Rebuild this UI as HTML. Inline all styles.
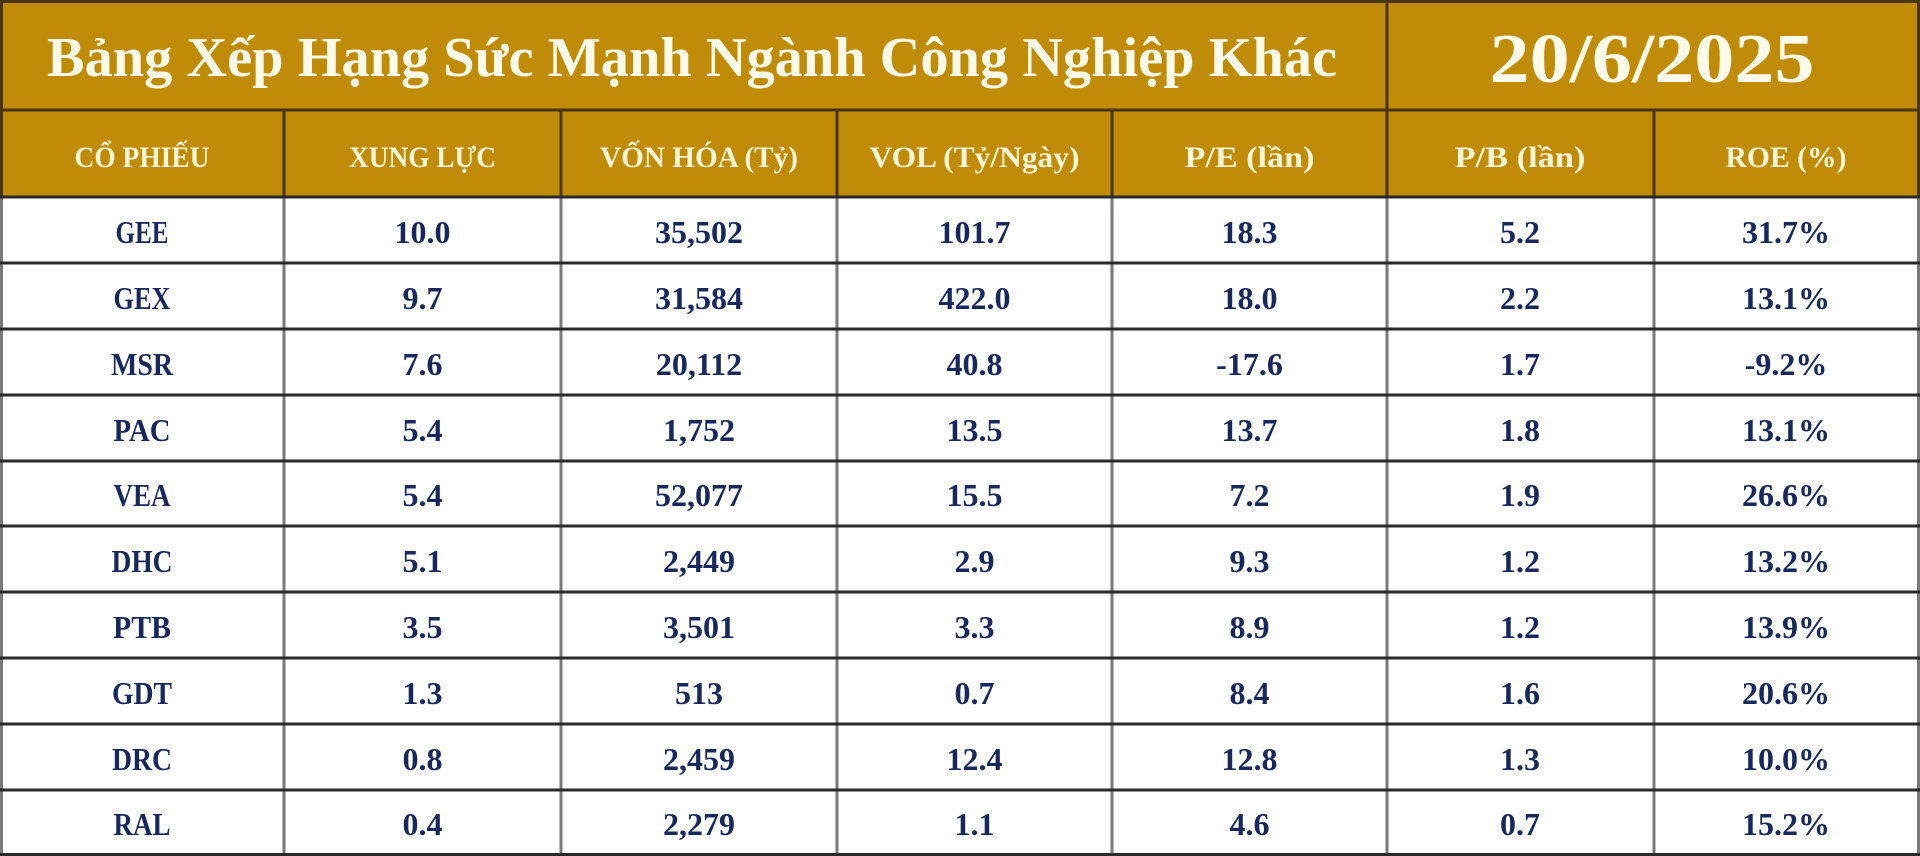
<!DOCTYPE html>
<html><head><meta charset="utf-8">
<style>
html,body{margin:0;padding:0;background:#fff;}
svg{display:block;}
.t{font-family:"Liberation Serif","DejaVu Serif",serif;font-weight:bold;}
</style></head>
<body>
<svg width="1920" height="856" viewBox="0 0 1920 856" xmlns="http://www.w3.org/2000/svg">
<rect x="0" y="0" width="1920" height="856" fill="#ffffff"/>
<rect x="0" y="0" width="1920" height="197" fill="#C08C07"/>
<g stroke="#4a3512" stroke-width="3">
<line x1="0" y1="1.5" x2="1920" y2="1.5"/>
<line x1="0" y1="110" x2="1920" y2="110"/>
<line x1="1.5" y1="0" x2="1.5" y2="197"/>
<line x1="1918.5" y1="0" x2="1918.5" y2="197"/>
<line x1="1387" y1="0" x2="1387" y2="110"/>
<line x1="284" y1="110" x2="284" y2="197"/>
<line x1="561" y1="110" x2="561" y2="197"/>
<line x1="837" y1="110" x2="837" y2="197"/>
<line x1="1112" y1="110" x2="1112" y2="197"/>
<line x1="1387" y1="110" x2="1387" y2="197"/>
<line x1="1654" y1="110" x2="1654" y2="197"/>
</g>
<g stroke="#7a7a7a" stroke-width="3">
<line x1="1.5" y1="197" x2="1.5" y2="856"/>
<line x1="284" y1="197" x2="284" y2="856"/>
<line x1="561" y1="197" x2="561" y2="856"/>
<line x1="837" y1="197" x2="837" y2="856"/>
<line x1="1112" y1="197" x2="1112" y2="856"/>
<line x1="1387" y1="197" x2="1387" y2="856"/>
<line x1="1654" y1="197" x2="1654" y2="856"/>
<line x1="1918.5" y1="197" x2="1918.5" y2="856"/>
</g>
<g stroke="#2a2a2a" stroke-width="3">
<line x1="0" y1="197" x2="1920" y2="197"/>
<line x1="0" y1="263" x2="1920" y2="263"/>
<line x1="0" y1="329" x2="1920" y2="329"/>
<line x1="0" y1="395" x2="1920" y2="395"/>
<line x1="0" y1="461" x2="1920" y2="461"/>
<line x1="0" y1="526" x2="1920" y2="526"/>
<line x1="0" y1="592" x2="1920" y2="592"/>
<line x1="0" y1="658" x2="1920" y2="658"/>
<line x1="0" y1="724" x2="1920" y2="724"/>
<line x1="0" y1="790" x2="1920" y2="790"/>
<line x1="0" y1="854.5" x2="1920" y2="854.5"/>
</g>

<g class="t" fill="#FFFBEA" text-anchor="middle">
<text x="692" y="76" font-size="56" textLength="1290" lengthAdjust="spacingAndGlyphs">Bảng Xếp Hạng Sức Mạnh Ngành Công Nghiệp Khác</text>
<text x="1652" y="82" font-size="70" textLength="325" lengthAdjust="spacingAndGlyphs">20/6/2025</text>
</g>

<g class="t" fill="#FFF6DA" text-anchor="middle" font-size="30">
<text x="142" y="167" textLength="135" lengthAdjust="spacingAndGlyphs">CỔ PHIẾU</text>
<text x="422.5" y="167" textLength="147" lengthAdjust="spacingAndGlyphs">XUNG LỰC</text>
<text x="699" y="167" textLength="198" lengthAdjust="spacingAndGlyphs">VỐN HÓA (Tỷ)</text>
<text x="974.5" y="167" textLength="210" lengthAdjust="spacingAndGlyphs">VOL (Tỷ/Ngày)</text>
<text x="1249.5" y="167" textLength="130" lengthAdjust="spacingAndGlyphs">P/E (lần)</text>
<text x="1520" y="167" textLength="131" lengthAdjust="spacingAndGlyphs">P/B (lần)</text>
<text x="1786" y="167" textLength="121" lengthAdjust="spacingAndGlyphs">ROE (%)</text>
</g>

<g class="t" fill="#16285C" text-anchor="middle" font-size="32">
<text x="142" y="243" textLength="53" lengthAdjust="spacingAndGlyphs">GEE</text>
<text x="422.5" y="243">10.0</text><text x="699" y="243">35,502</text><text x="974.5" y="243">101.7</text><text x="1249.5" y="243">18.3</text><text x="1520" y="243">5.2</text><text x="1786" y="243">31.7%</text>
<text x="142" y="309" textLength="57" lengthAdjust="spacingAndGlyphs">GEX</text>
<text x="422.5" y="309">9.7</text><text x="699" y="309">31,584</text><text x="974.5" y="309">422.0</text><text x="1249.5" y="309">18.0</text><text x="1520" y="309">2.2</text><text x="1786" y="309">13.1%</text>
<text x="142" y="375" textLength="62" lengthAdjust="spacingAndGlyphs">MSR</text>
<text x="422.5" y="375">7.6</text><text x="699" y="375">20,112</text><text x="974.5" y="375">40.8</text><text x="1249.5" y="375">-17.6</text><text x="1520" y="375">1.7</text><text x="1786" y="375">-9.2%</text>
<text x="142" y="441" textLength="57" lengthAdjust="spacingAndGlyphs">PAC</text>
<text x="422.5" y="441">5.4</text><text x="699" y="441">1,752</text><text x="974.5" y="441">13.5</text><text x="1249.5" y="441">13.7</text><text x="1520" y="441">1.8</text><text x="1786" y="441">13.1%</text>
<text x="142" y="506" textLength="57" lengthAdjust="spacingAndGlyphs">VEA</text>
<text x="422.5" y="506">5.4</text><text x="699" y="506">52,077</text><text x="974.5" y="506">15.5</text><text x="1249.5" y="506">7.2</text><text x="1520" y="506">1.9</text><text x="1786" y="506">26.6%</text>
<text x="142" y="572" textLength="61" lengthAdjust="spacingAndGlyphs">DHC</text>
<text x="422.5" y="572">5.1</text><text x="699" y="572">2,449</text><text x="974.5" y="572">2.9</text><text x="1249.5" y="572">9.3</text><text x="1520" y="572">1.2</text><text x="1786" y="572">13.2%</text>
<text x="142" y="638" textLength="58" lengthAdjust="spacingAndGlyphs">PTB</text>
<text x="422.5" y="638">3.5</text><text x="699" y="638">3,501</text><text x="974.5" y="638">3.3</text><text x="1249.5" y="638">8.9</text><text x="1520" y="638">1.2</text><text x="1786" y="638">13.9%</text>
<text x="142" y="704" textLength="60" lengthAdjust="spacingAndGlyphs">GDT</text>
<text x="422.5" y="704">1.3</text><text x="699" y="704">513</text><text x="974.5" y="704">0.7</text><text x="1249.5" y="704">8.4</text><text x="1520" y="704">1.6</text><text x="1786" y="704">20.6%</text>
<text x="142" y="770" textLength="60" lengthAdjust="spacingAndGlyphs">DRC</text>
<text x="422.5" y="770">0.8</text><text x="699" y="770">2,459</text><text x="974.5" y="770">12.4</text><text x="1249.5" y="770">12.8</text><text x="1520" y="770">1.3</text><text x="1786" y="770">10.0%</text>
<text x="142" y="835" textLength="57" lengthAdjust="spacingAndGlyphs">RAL</text>
<text x="422.5" y="835">0.4</text><text x="699" y="835">2,279</text><text x="974.5" y="835">1.1</text><text x="1249.5" y="835">4.6</text><text x="1520" y="835">0.7</text><text x="1786" y="835">15.2%</text>
</g>
</svg>
</body></html>
